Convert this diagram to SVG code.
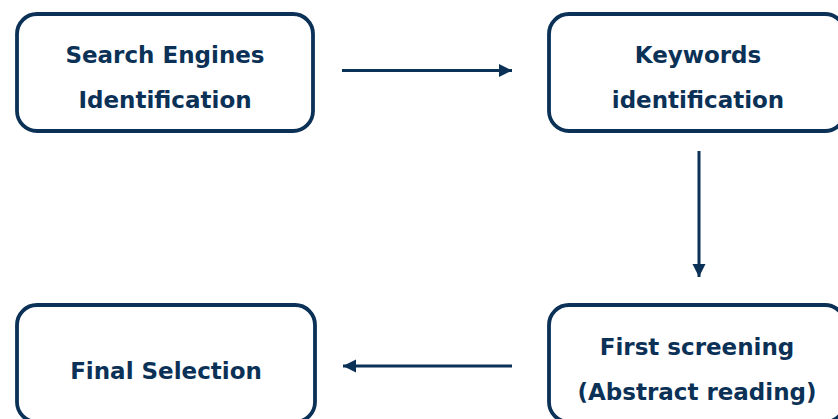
<svg xmlns="http://www.w3.org/2000/svg" width="838" height="419" viewBox="0 0 838 419">
  <style>
    .box { fill: #ffffff; stroke: #0b3157; stroke-width: 3.8; }
    .label { font-family: "DejaVu Sans", "Liberation Sans", sans-serif; font-weight: 700; font-size: 23px; fill: #0b3157; text-anchor: middle; }
    .edge { stroke: #0b3157; stroke-width: 3; fill: none; marker-end: url(#head); }
  </style>
  <defs>
    <marker id="head" viewBox="0 0 10 10" refX="10" refY="5" markerWidth="4.4" markerHeight="4.4" orient="auto" markerUnits="strokeWidth">
      <path d="M0,0 L10,5 L0,10 Z" fill="#0b3157"/>
    </marker>
  </defs>
  <rect width="838" height="419" fill="#ffffff"/>

  <g id="search-engines">
    <rect class="box" x="17" y="14" width="296" height="117" rx="20"/>
    <text class="label" x="165" y="63">Search Engines</text>
    <text class="label" x="165" y="108">Identification</text>
  </g>

  <g id="keywords">
    <rect class="box" x="549" y="14" width="296" height="117" rx="20"/>
    <text class="label" x="698" y="63">Keywords</text>
    <text class="label" x="698" y="108">identification</text>
  </g>

  <g id="first-screening">
    <rect class="box" x="549" y="305" width="296" height="117" rx="20"/>
    <text class="label" x="697" y="355">First screening</text>
    <text class="label" x="697" y="400">(Abstract reading)</text>
  </g>

  <g id="final-selection">
    <rect class="box" x="17" y="305" width="298" height="117" rx="20"/>
    <text class="label" x="166" y="379">Final Selection</text>
  </g>

  <g id="connectors">
    <line class="edge" x1="342" y1="70.5" x2="512" y2="70.5"/>
    <line class="edge" x1="699" y1="151" x2="699" y2="277"/>
    <line class="edge" x1="512" y1="366" x2="343" y2="366"/>
  </g>
</svg>
